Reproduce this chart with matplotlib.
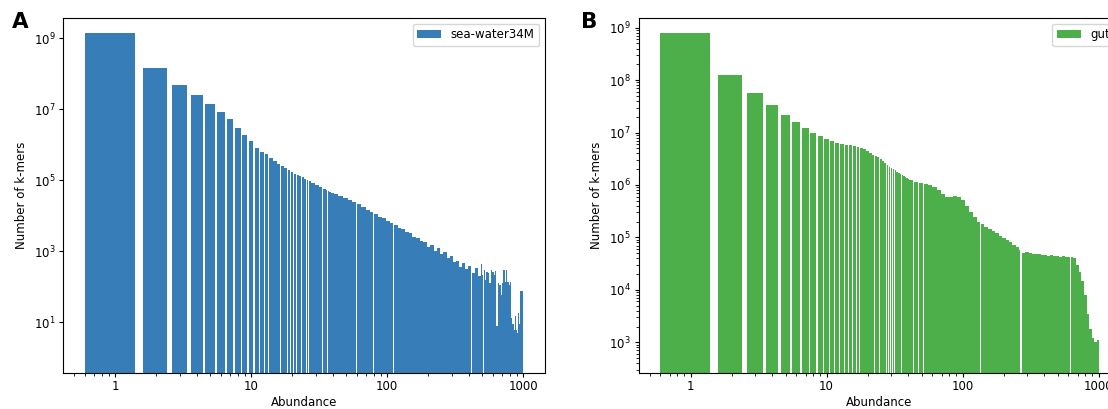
import numpy as np
import matplotlib
matplotlib.use('Agg')
from matplotlib import pyplot as plt
from matplotlib.ticker import NullLocator

# k-mer abundance histograms.
# Abundances 1..40 are single bars, above that each value is the start of a bin
# that runs up to the next listed abundance.
max_abundance = 1000

abund_sea = list(range(1, 41)) + [
    41, 44, 48, 52, 56, 60, 65, 70, 75, 80, 86, 92, 98, 105, 112, 120, 128, 136,
    145, 154, 164, 174, 185, 196, 208, 220, 233, 246, 260, 275, 290, 306, 323,
    340, 358, 377, 397, 418, 440, 463, 487, 500, 512, 525, 538, 551, 565, 579,
    593, 608, 622, 637, 652, 667, 683, 699, 715, 731, 748, 765, 782, 800, 817,
    835, 853, 871, 890, 908, 925, 940, 955]
count_sea = [
    1.38e9, 1.5e8, 4.8e7, 2.5e7, 1.4e7, 8.3e6, 5.2e6, 3.0e6, 1.9e6, 1.26e6,
    8.3e5, 6.3e5, 5.4e5, 4.2e5, 3.5e5, 2.9e5, 2.6e5, 2.2e5, 1.95e5, 1.7e5,
    1.55e5, 1.42e5, 1.28e5, 1.2e5, 1.08e5, 1.0e5, 9.4e4, 8.6e4, 8.2e4, 7.5e4,
    7.2e4, 6.6e4, 6.3e4, 5.8e4, 5.6e4, 5.2e4, 5.0e4, 4.8e4, 4.5e4, 4.3e4,
    4.1e4, 3.7e4, 3.2e4, 2.8e4, 2.45e4, 2.1e4, 1.8e4, 1.5e4, 1.3e4, 1.1e4,
    9.5e3, 8.5e3, 7.0e3, 6.2e3, 5.6e3, 4.6e3, 4.2e3, 3.6e3, 3.3e3, 2.6e3,
    2.4e3, 1.9e3, 1.8e3, 1.3e3, 1.5e3, 1.0e3, 1.2e3, 8.5e2, 9.5e2, 6.5e2,
    7.5e2, 5.0e2, 5.5e2, 3.6e2, 4.6e2, 3.2e2, 3.8e2, 2.4e2, 3.3e2, 2.0e2,
    4.4e2, 2.1e2, 3.0e2, 1.6e2, 2.6e2, 2.4e2, 1.3e2, 3.0e2, 2.6e2, 2.2e2,
    2.8e2, 8, 1.3e2, 1.1e2, 60, 1.3e2, 2.9e2, 1.4e2, 3.0e2, 1.4e2,
    1.1e2, 1.4e2, 13, 9, 6, 15, 6, 5, 18, 9, 75]

abund_gut = list(range(1, 41)) + [
    41, 44, 48, 52, 56, 60, 65, 70, 75, 80, 86, 92, 98, 105, 112, 120, 128, 136,
    145, 154, 164, 174, 185, 196, 208, 220, 233, 246, 260, 266, 272, 290, 306,
    323, 340, 358, 377, 397, 418, 440, 463, 487, 512, 538, 565, 593, 622, 652,
    683, 715, 748, 782, 817, 853, 890, 928, 967]
count_gut = [
    7.8e8, 1.23e8, 5.7e7, 3.4e7, 2.2e7, 1.56e7, 1.24e7, 1.0e7, 8.5e6, 7.6e6,
    6.8e6, 6.4e6, 6.1e6, 5.9e6, 5.7e6, 5.5e6, 5.3e6, 5.0e6, 4.8e6, 4.5e6,
    4.1e6, 3.8e6, 3.6e6, 3.4e6, 3.1e6, 2.85e6, 2.6e6, 2.4e6, 2.25e6, 2.1e6,
    2.0e6, 1.9e6, 1.8e6, 1.72e6, 1.65e6, 1.55e6, 1.48e6, 1.4e6, 1.33e6, 1.28e6,
    1.25e6, 1.15e6, 1.1e6, 1.05e6, 1.0e6, 9.2e5, 8.0e5, 6.6e5, 6.0e5, 6.0e5,
    6.1e5, 5.8e5, 5.2e5, 4.0e5, 3.0e5, 2.4e5, 2.0e5, 1.8e5, 1.6e5, 1.45e5,
    1.32e5, 1.2e5, 1.08e5, 9.8e4, 9.0e4, 8.0e4, 7.2e4, 6.6e4, 5.8e4, 0,
    5.0e4, 5.2e4, 5.0e4, 4.9e4, 4.8e4, 4.9e4, 4.7e4, 4.6e4, 4.5e4, 4.6e4,
    4.4e4, 4.5e4, 4.3e4, 4.4e4, 4.2e4, 4.3e4, 4.2e4, 4.1e4, 3.0e4, 2.2e4,
    1.5e4, 8.0e3, 3.5e3, 1.8e3, 1.2e3, 1.0e3, 1.1e3]

xtick_vals = [1, 10, 100, 1000]
xtick_labels = ['1', '10', '100', '1000']

W, H = 1108, 409


def bin_edges(starts, last):
    starts = np.asarray(starts, dtype=float)
    ends = np.append(starts[1:], last + 1)
    return starts - 0.4, ends - starts - 0.2


def draw_panel(ax, abund, counts, color, label):
    left, width = bin_edges(abund, max_abundance)
    ax.bar(left, counts, width=width, align='edge', color=color,
           linewidth=0, label=label)
    ax.set_xscale('log')
    ax.set_yscale('log')
    ax.set_xlim(0.414, 1449)
    ax.set_xticks(xtick_vals)
    ax.set_xticklabels(xtick_labels)
    ax.set_xlabel('Abundance', fontsize=8.5, labelpad=2)
    ax.set_ylabel('Number of k-mers', fontsize=8.5)
    ax.tick_params(labelsize=8.5, length=3, pad=2.5)
    ax.tick_params(which='minor', length=2)
    ax.legend(loc='upper right', fontsize=8.5)


fig = plt.figure(figsize=(W / 100, H / 100), dpi=100)

# panel A
ax1 = fig.add_axes([63 / W, (H - 372.7) / H, 482 / W, 355 / H])
draw_panel(ax1, abund_sea, count_sea, '#377eb8', 'sea-water34M')
ax1.set_ylim(10 ** -0.42, 10 ** 9.58)
ax1.set_yticks([1e1, 1e3, 1e5, 1e7, 1e9])
ax1.yaxis.set_minor_locator(NullLocator())

# panel B (runs off the right edge like in the original)
ax2 = fig.add_axes([638.5 / W, (H - 372.7) / H, 482 / W, 355 / H])
draw_panel(ax2, abund_gut, count_gut, '#4daf4a', 'gut')
ax2.set_ylim(10 ** 2.42, 10 ** 9.19)

fig.text(12 / W, 1 - 22 / H, 'A', fontsize=15.5, fontweight='bold', va='center')
fig.text(581 / W, 1 - 22 / H, 'B', fontsize=15.5, fontweight='bold', va='center')

plt.savefig('out.png', dpi=100)
